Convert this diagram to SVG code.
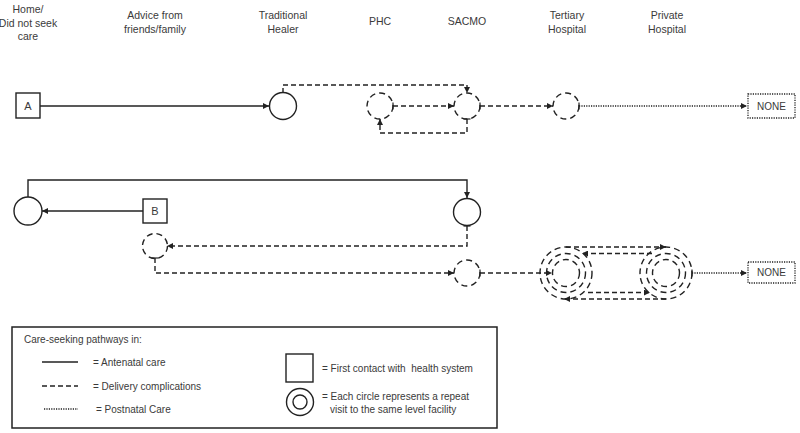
<svg xmlns="http://www.w3.org/2000/svg" width="800" height="433" viewBox="0 0 800 433">
<defs>
<style>
text{font-family:"Liberation Sans",Arial,sans-serif;fill:#3a3a3a}
.hd{font-size:10.5px;text-anchor:middle}
.lg{font-size:10px}
.nd{font-size:11px;text-anchor:middle;dominant-baseline:central}
.solid{fill:none;stroke:#222;stroke-width:1.4}
.dash{fill:none;stroke:#222;stroke-width:1.4;stroke-dasharray:5,3}
.dot{fill:none;stroke:#222;stroke-width:1.3;stroke-dasharray:1.2,1.2}
.c{fill:#fff;stroke:#222;stroke-width:1.4}
.dc{fill:none;stroke:#222;stroke-width:1.4;stroke-dasharray:6,4}
.box{fill:#fff;stroke:#222;stroke-width:1.4}
.dbox{fill:#fff;stroke:#222;stroke-width:1.3;stroke-dasharray:1.2,1.2}
</style>
<marker id="arr" viewBox="0 0 6 6" refX="6" refY="3" markerWidth="6" markerHeight="6" markerUnits="userSpaceOnUse" orient="auto"><path d="M0,0L6,3L0,6z" fill="#222"/></marker>
<marker id="tick" viewBox="-1 -4 2 8" refX="0" refY="0" markerWidth="2" markerHeight="8" markerUnits="userSpaceOnUse" orient="auto"><path d="M0,-3.5L0,3.5" stroke="#222" stroke-width="1.2"/></marker>
</defs>
<rect width="800" height="433" fill="#fff"/>

<g id="headers">
<text class="hd" x="28" y="13">Home/</text>
<text class="hd" x="28" y="27">Did not seek</text>
<text class="hd" x="28" y="40">care</text>
<text class="hd" x="155" y="19">Advice from</text>
<text class="hd" x="155" y="33">friends/family</text>
<text class="hd" x="283" y="19">Traditional</text>
<text class="hd" x="283" y="33">Healer</text>
<text class="hd" x="380" y="25">PHC</text>
<text class="hd" x="467" y="25">SACMO</text>
<text class="hd" x="567" y="19">Tertiary</text>
<text class="hd" x="567" y="33">Hospital</text>
<text class="hd" x="667" y="19">Private</text>
<text class="hd" x="667" y="33">Hospital</text>
</g>

<g id="connectors">
<!-- row 1 -->
<path class="solid" d="M40,106H269" marker-end="url(#arr)"/>
<path class="dash" d="M283,93V85H467V93" marker-start="url(#tick)" marker-end="url(#arr)"/>
<path class="dash" d="M393,106H454" marker-start="url(#tick)" marker-end="url(#arr)"/>
<path class="dash" d="M467,119V133H380V119" marker-start="url(#tick)" marker-end="url(#arr)"/>
<path class="dash" d="M480,106H553" marker-start="url(#tick)" marker-end="url(#arr)"/>
<path class="dot" d="M579,106H747" marker-start="url(#tick)" marker-end="url(#arr)"/>
<!-- row 2 -->
<path class="solid" d="M28,197V180H467V198" marker-end="url(#arr)"/>
<path class="solid" d="M143,211H42" marker-end="url(#arr)"/>
<path class="dash" d="M467,226V246H167" marker-start="url(#tick)" marker-end="url(#arr)"/>
<path class="dash" d="M155,258V273H454" marker-start="url(#tick)" marker-end="url(#arr)"/>
<path class="dash" d="M480,273H552" marker-start="url(#tick)" marker-end="url(#arr)"/>
<path class="dash" d="M566,247H666" marker-end="url(#arr)"/>
<path class="dash" d="M652,253.5H582" marker-end="url(#arr)"/>
<path class="dash" d="M588,292.5H650" marker-end="url(#arr)"/>
<path class="dash" d="M666,299H564" marker-end="url(#arr)"/>
<path class="dot" d="M692,273H747" marker-start="url(#tick)" marker-end="url(#arr)"/>
</g>

<g id="nodeA"><rect class="box" x="16" y="93" width="24" height="25"/><text class="nd" x="28" y="106">A</text></g>
<g id="healer1"><circle class="c" cx="283" cy="106" r="13.5"/></g>
<g id="phc1"><circle class="dc" cx="380" cy="106" r="13"/></g>
<g id="sacmo1"><circle class="dc" cx="467" cy="106" r="13"/></g>
<g id="tertiary1"><circle class="dc" cx="566" cy="106" r="13"/></g>
<g id="none1"><rect class="dbox" x="748" y="94" width="47" height="24"/><text class="nd" x="771.5" y="106" style="font-size:10px">NONE</text></g>

<g id="home2"><circle class="c" cx="28" cy="211" r="14"/></g>
<g id="nodeB"><rect class="box" x="143" y="199" width="24" height="24"/><text class="nd" x="155" y="211">B</text></g>
<g id="sacmo2a"><circle class="c" cx="467" cy="212" r="13.5"/></g>
<g id="advice2"><circle class="dc" cx="155" cy="246" r="12.5"/></g>
<g id="sacmo2b"><circle class="dc" cx="467" cy="273" r="13"/></g>
<g id="tertiary2">
<circle class="dc" cx="566" cy="273" r="13.5"/>
<circle class="dc" cx="566" cy="273" r="19.5"/>
<circle class="dc" cx="566" cy="273" r="26"/>
</g>
<g id="private2">
<circle class="dc" cx="666" cy="273" r="13.5"/>
<circle class="dc" cx="666" cy="273" r="19.5"/>
<circle class="dc" cx="666" cy="273" r="26"/>
</g>
<g id="none2"><rect class="dbox" x="748" y="262" width="47" height="21"/><text class="nd" x="771.5" y="272.5" style="font-size:10px">NONE</text></g>

<g id="legend">
<rect x="12" y="327" width="485" height="101" fill="none" stroke="#222" stroke-width="1.5"/>
<text class="lg" x="24" y="343">Care-seeking pathways in:</text>
<path class="solid" d="M42,362H78" stroke-width="1.8"/>
<text class="lg" x="93" y="365.5">= Antenatal care</text>
<path class="dash" d="M42,386H78" stroke-width="1.8" stroke-dasharray="8,6"/>
<text class="lg" x="93" y="389.5">= Delivery complications</text>
<path class="dot" d="M44,409H78"/>
<text class="lg" x="96" y="412.5">= Postnatal Care</text>
<rect class="box" x="286" y="354" width="27" height="28"/>
<text class="lg" x="322" y="371.5">= First contact with&#160; health system</text>
<circle class="c" cx="300" cy="402" r="13.5"/>
<circle class="c" cx="300" cy="402" r="7"/>
<text class="lg" x="322" y="399.5">= Each circle represents a repeat</text>
<text class="lg" x="330" y="412.5">visit to the same level facility</text>
</g>
</svg>
